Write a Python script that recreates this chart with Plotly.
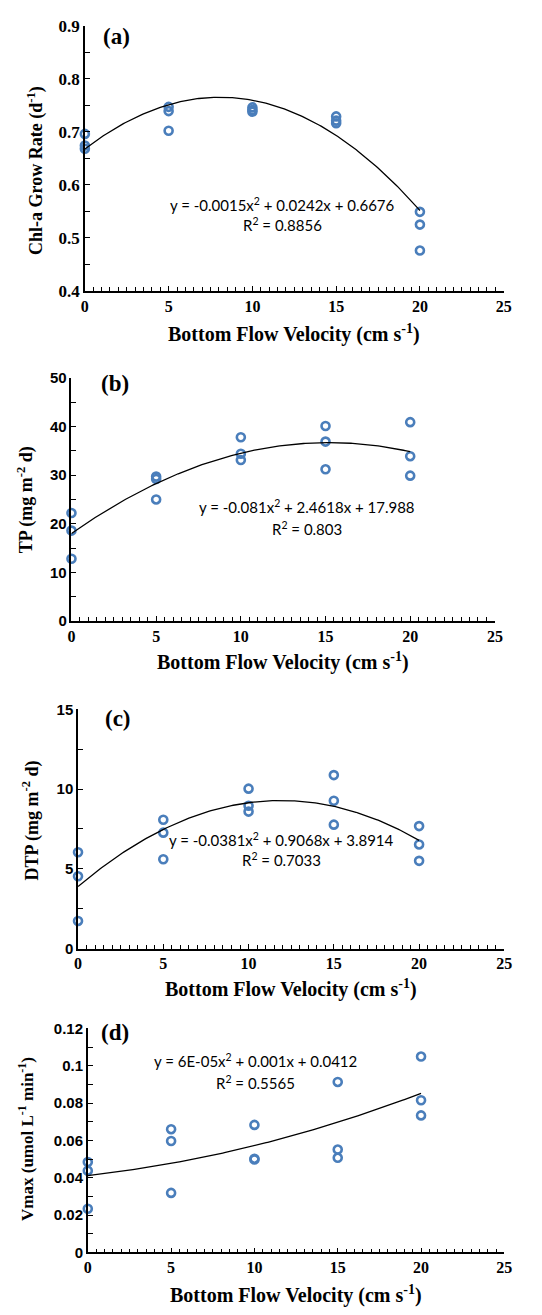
import numpy as np
import plotly.graph_objects as go

W, H = 542, 1315

# ---------------- data ----------------
chla_x = [0, 0, 0, 5, 5, 5, 10, 10, 10, 15, 15, 15, 20, 20, 20]
chla_y = [0.696, 0.674, 0.668, 0.747, 0.739, 0.702, 0.746, 0.741, 0.738,
          0.729, 0.721, 0.716, 0.549, 0.525, 0.476]

tp_x = [0, 0, 0, 5, 5, 5, 10, 10, 10, 15, 15, 15, 20, 20, 20]
tp_y = [22.2, 18.6, 12.8, 29.7, 29.2, 25.0, 37.8, 34.4, 33.1,
        40.1, 36.9, 31.2, 40.9, 33.9, 29.9]

dtp_x = [0, 0, 0, 5, 5, 5, 10, 10, 10, 15, 15, 15, 20, 20, 20]
dtp_y = [6.04, 4.53, 1.73, 8.08, 7.27, 5.60, 10.03, 8.96, 8.59,
         10.88, 9.27, 7.77, 7.68, 6.53, 5.50]

vmax_x = [0, 0, 0, 5, 5, 5, 10, 10, 10, 15, 15, 15, 20, 20, 20]
vmax_y = [0.0484, 0.0438, 0.0234, 0.0660, 0.0597, 0.0319, 0.0683, 0.0502, 0.0498,
          0.0913, 0.0551, 0.0507, 0.1049, 0.0815, 0.0734]

# trendline coefficients (a, b, c) for y = a x^2 + b x + c, as printed
chla_coef = [-0.0015, 0.0242, 0.6676]
tp_coef = [-0.081, 2.4618, 17.988]
dtp_coef = [-0.0381, 0.9068, 3.8914]
vmax_coef = [6e-05, 0.001, 0.0412]

eq_texts = [
    ("y = -0.0015x<sup>2</sup> + 0.0242x + 0.6676", "R<sup>2</sup> = 0.8856"),
    ("y = -0.081x<sup>2</sup> + 2.4618x + 17.988", "R<sup>2</sup> = 0.803"),
    ("y = -0.0381x<sup>2</sup> + 0.9068x + 3.8914", "R<sup>2</sup> = 0.7033"),
    ("y = 6E-05x<sup>2</sup> + 0.001x + 0.0412", "R<sup>2</sup> = 0.5565"),
]
panel_labels = ["(a)", "(b)", "(c)", "(d)"]
y_titles = ["Chl-a Grow Rate (d<sup>-1</sup>)", "TP (mg m<sup>-2</sup> d)",
            "DTP (mg m<sup>-2</sup> d)", "Vmax (umol L<sup>-1</sup> min<sup>-1</sup>)"]
x_title = "Bottom Flow Velocity (cm s<sup>-1</sup>)"

x_tickvals = [0, 5, 10, 15, 20, 25]
y_ranges = [[0.4, 0.9], [0, 50], [0, 15], [0, 0.12]]
y_dticks = [0.1, 10, 5, 0.02]
y_tickvals = [[0.4, 0.5, 0.6, 0.7, 0.8, 0.9], [0, 10, 20, 30, 40, 50], [0, 5, 10, 15],
              [0, 0.02, 0.04, 0.06, 0.08, 0.1, 0.12]]
y_ticktext = [["0.4", "0.5", "0.6", "0.7", "0.8", "0.9"], ["0", "10", "20", "30", "40", "50"],
              ["0", "5", "10", "15"], ["0", "0.02", "0.04", "0.06", "0.08", "0.1", "0.12"]]

# ---------------- layout geometry (window pixels) ----------------
boxes = [(82.7, 511, 17, 286), (69, 502, 374.3, 621), (75.7, 511.7, 710.7, 953.3),
         (85.7, 511.7, 1034.3, 1261.7)]
label_pos = [(99, 28), (97, 380), (101, 720), (97, 1038)]
ytitle_pos = [(32, 164), (22, 498), (28, 823), (23, 1146)]
ytitle_size = [18, 18, 18, 17]
xtitle_y = [329, 662, 994, 1304]
eq_pos = [(285, 198, 219), (310, 505, 527), (284, 843, 863), (257, 1067, 1089)]

SERIF = "Liberation Serif"
SANS = "Liberation Sans"
EQF = "Lato"
BLUE = "#4a7ebb"


def px(x):
    return x / W


def py(y):
    return 1 - y / H


fig = go.Figure()
series = [(chla_x, chla_y, chla_coef), (tp_x, tp_y, tp_coef),
          (dtp_x, dtp_y, dtp_coef), (vmax_x, vmax_y, vmax_coef)]

annotations = []
for i, (xs, ys, coef) in enumerate(series):
    n = "" if i == 0 else str(i + 1)
    xa, ya = "x" + n, "y" + n
    fig.add_trace(go.Scatter(
        x=xs, y=ys, mode="markers", xaxis=xa, yaxis=ya, showlegend=False,
        cliponaxis=False, hoverinfo="skip",
        marker=dict(symbol="circle-open", size=8, color=BLUE, line=dict(width=2.6, color=BLUE))))
    tx = np.linspace(0, 20, 201)
    ty = np.polyval(coef, tx)
    fig.add_trace(go.Scatter(
        x=tx, y=ty, mode="lines", xaxis=xa, yaxis=ya, showlegend=False, hoverinfo="skip",
        line=dict(color="black", width=1.3)))

    l, r, t, b = boxes[i]
    ytickfont = dict(family=SERIF if i == 0 else SANS, size=17 if i == 0 else 15,
                     color="black", weight="bold")
    fig.update_layout({
        "xaxis" + n: dict(
            domain=[px(l), px(r)], anchor=ya, range=[0, 25], tickvals=x_tickvals,
            showgrid=False, zeroline=False, showline=True, linecolor="black", linewidth=1.5,
            ticks="inside", ticklen=5, tickwidth=1.2, tickcolor="black",
            minor=dict(dtick=0.5, ticks="inside", ticklen=4, tickwidth=1, tickcolor="black"),
            tickfont=dict(family=SERIF, size=16, color="black", weight="bold"),
        ),
        "yaxis" + n: dict(
            domain=[py(b), py(t)], anchor=xa, range=y_ranges[i],
            tickvals=y_tickvals[i], ticktext=y_ticktext[i],
            showgrid=False, zeroline=False, showline=True, linecolor="black", linewidth=1.5,
            ticks="inside", ticklen=5, tickwidth=1.2, tickcolor="black",
            minor=dict(dtick=y_dticks[i] / 2, ticks="inside", ticklen=5, tickwidth=1, tickcolor="black"),
            tickfont=ytickfont,
        ),
    })

    lx, ly = label_pos[i]
    annotations.append(dict(text="<b>" + panel_labels[i] + "</b>", x=px(lx), y=py(ly),
                            xref="paper", yref="paper", xanchor="left", yanchor="middle",
                            showarrow=False, font=dict(family=SERIF, size=23, color="black")))
    yx, yy = ytitle_pos[i]
    annotations.append(dict(text="<b>" + y_titles[i] + "</b>", x=px(yx), y=py(yy),
                            xref="paper", yref="paper", xanchor="center", yanchor="middle",
                            textangle=-90, showarrow=False,
                            font=dict(family=SERIF, size=ytitle_size[i], color="black")))
    annotations.append(dict(text="<b>" + x_title + "</b>", x=px((l + r) / 2), y=py(xtitle_y[i]),
                            xref="paper", yref="paper", xanchor="center", yanchor="middle",
                            showarrow=False, font=dict(family=SERIF, size=20, color="black")))
    ex, e1, e2 = eq_pos[i]
    annotations.append(dict(text=eq_texts[i][0], x=px(ex), y=py(e1), xref="paper", yref="paper",
                            xanchor="center", yanchor="middle", showarrow=False,
                            font=dict(family=EQF, size=15, color="black")))
    annotations.append(dict(text=eq_texts[i][1], x=px(ex), y=py(e2), xref="paper", yref="paper",
                            xanchor="center", yanchor="middle", showarrow=False,
                            font=dict(family=EQF, size=15, color="black")))

fig.update_layout(
    width=W, height=H, margin=dict(l=0, r=0, t=0, b=0),
    paper_bgcolor="white", plot_bgcolor="white",
    annotations=annotations, showlegend=False, hovermode=False,
)

fig.write_html("out.html", config={"displayModeBar": False},
               post_script="document.body.style.margin='0';document.body.style.overflow='hidden';")
